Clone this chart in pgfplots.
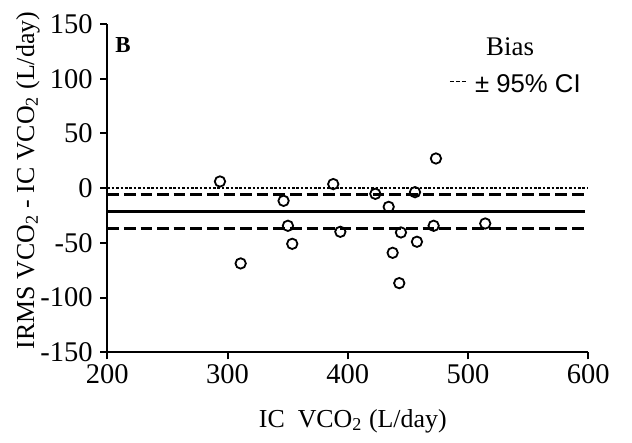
\documentclass[border=0pt]{standalone}
\usepackage{fontspec}
\setmainfont{Liberation Serif}
\newfontfamily\arial{Liberation Sans}
\usepackage{pgfplots}
\pgfplotsset{compat=1.18}

\begin{document}
\fontsize{14}{16}\selectfont
\begin{tikzpicture}
\begin{axis}[
  scale only axis,
  width=240.5bp, height=164.15bp,
  xmin=200, xmax=600, ymin=-150, ymax=150,
  axis x line*=bottom, axis y line*=left,
  axis line style={line width=1bp},
  xtick={200,300,400,500,600},
  ytick={-150,-100,-50,0,50,100,150},
  xticklabels={200,300,400,500,600},
  yticklabels={-150,-100,-50,0,50,100,150},
  tick align=outside, major tick length=3.5bp,
  tick style={line width=1bp, black},
  ticklabel style={font=\fontsize{14.3}{16}\selectfont},
  xticklabel style={yshift=2bp},
  yticklabel style={xshift=1bp},
  xlabel={IC\ \ VCO\textsubscript{2} (L/day)},
  ylabel={IRMS VCO\textsubscript{2} - IC VCO\textsubscript{2} (L/day)},
  label style={font=\fontsize{13}{15}\selectfont},
  xlabel style={yshift=-3bp, xshift=2.5bp},
  ylabel style={at={(rel axis cs:-0.165,0.523)}, anchor=center},
  clip=false,
]
% zero line
\addplot[line width=1bp, dash pattern=on 1.3bp off 0.9bp] coordinates {(200,0) (600,0)};
% 95% CI limits
\addplot[line width=1.5bp, dash pattern=on 5.8bp off 2.5bp] coordinates {(200,-6.2) (597,-6.2)};
\addplot[line width=1.5bp, dash pattern=on 5.8bp off 2.5bp] coordinates {(200,-37.0) (597,-37.0)};
% bias
\addplot[line width=1.5bp] coordinates {(200,-21.7) (597,-21.7)};
% differences
\addplot[only marks, mark=o, mark size=2.6bp,
  mark options={line width=0.9bp, fill=white, draw=black}] coordinates {
  (293.7,6.1) (310.9,-68.8) (346.6,-11.6) (350.2,-34.4) (353.8,-50.9)
  (387.9,3.7) (393.8,-39.9) (422.9,-5.2) (434.0,-17.1) (437.3,-59.1)
  (442.8,-86.8) (444.2,-40.5) (455.9,-3.7) (457.5,-49.0) (471.4,-34.4)
  (473.3,27.1) (514.3,-32.3)
};
\node[anchor=west, font=\fontsize{11.5}{12}\selectfont\bfseries, inner sep=0pt]
  at (rel axis cs:0.016,0.936) {B};
\node[anchor=west, font=\fontsize{13.5}{15}\selectfont, inner sep=0pt]
  at (rel axis cs:0.787,0.930) {Bias};
\node[anchor=west, font=\fontsize{12.9}{15}\selectfont\arial, inner sep=0pt]
  at (rel axis cs:0.764,0.817) {± 95\% CI};
\draw[line width=0.5bp, dash pattern=on 2bp off 1bp]
  (rel axis cs:0.712,0.824) -- (rel axis cs:0.748,0.824);
\coordinate (bl) at (rel axis cs:-0.2231,-0.2763);
\coordinate (tr) at (rel axis cs:1.0909,1.0731);
\end{axis}
\pgfresetboundingbox
\path (bl) rectangle (tr);
\end{tikzpicture}
\end{document}
